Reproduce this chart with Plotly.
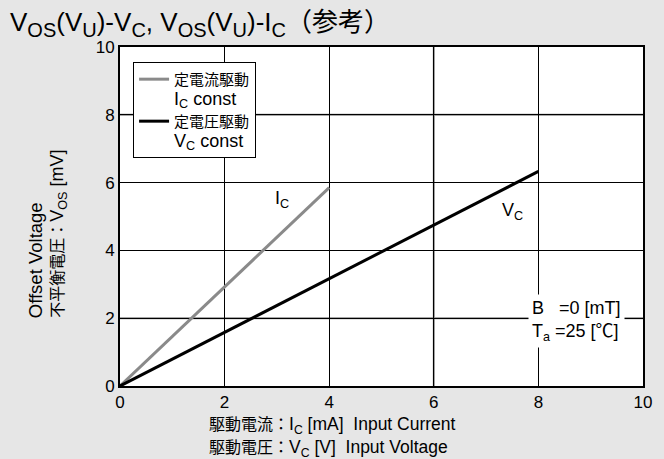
import plotly.graph_objects as go

# Data
ic_x = [0, 4]
ic_y = [0, 5.85]
vc_x = [0, 8]
vc_y = [0, 6.33]

x_ticks = [0, 2, 4, 6, 8, 10]
y_ticks = [0, 2, 4, 6, 8, 10]
gray_grid_x = [6]
gray_grid_y = [2, 8]

FONT = "Liberation Sans, Arial, Noto Sans CJK JP"


def en(t, size):
    return '<span style="font-size:%spx">%s</span>' % (size, t)


SUB = '<sub><span style="font-size:20px">{}</span></sub>'
title_text = ("V" + SUB.format("OS") + "(V" + SUB.format("U") + ")-V" + SUB.format("C") +
              ", V" + SUB.format("OS") + "(V" + SUB.format("U") + ")-I" + SUB.format("C") + "（参考）")

legend_ic = "定電流駆動<br>" + en("I<sub>C</sub> const", 18)
legend_vc = "定電圧駆動<br>" + en("V<sub>C</sub> const", 18)

fig = go.Figure()
fig.add_trace(go.Scatter(x=ic_x, y=ic_y, mode="lines",
                         line=dict(color="#8a8a8a", width=3), name=legend_ic))
fig.add_trace(go.Scatter(x=vc_x, y=vc_y, mode="lines",
                         line=dict(color="#000000", width=3), name=legend_vc))

shapes = []
for gx in gray_grid_x:
    shapes.append(dict(type="line", xref="x", yref="paper", x0=gx, x1=gx, y0=0, y1=1,
                       line=dict(color="#888888", width=2), layer="below"))
for gy in gray_grid_y:
    shapes.append(dict(type="line", xref="paper", yref="y", x0=0, x1=1, y0=gy, y1=gy,
                       line=dict(color="#888888", width=2), layer="below"))

xl = (207 - 120) / 525
annotations = [
    dict(x=3.1, y=5.5, xref="x", yref="y", text="I<sub>C</sub>", showarrow=False,
         font=dict(size=18, color="black")),
    dict(x=7.5, y=5.15, xref="x", yref="y", text="V<sub>C</sub>", showarrow=False,
         font=dict(size=18, color="black")),
    dict(x=8.72, y=1.92, xref="x", yref="y", text="B   =0 [mT]<br>T<sub>a</sub> =25 [℃]",
         showarrow=False, align="left", bgcolor="white", borderpad=3,
         font=dict(size=18, color="black")),
    dict(x=-0.160, y=0.195, xref="paper", yref="paper", xanchor="center", yanchor="bottom",
         text=en("Offset Voltage", 18.5), textangle=-90, showarrow=False,
         font=dict(size=16, color="black")),
    dict(x=-0.117, y=0.195, xref="paper", yref="paper", xanchor="center", yanchor="bottom",
         text="不平衡電圧：" + en("V<sub>OS</sub> [mV]", 18), textangle=-90, showarrow=False,
         font=dict(size=16, color="black")),
    dict(x=xl, y=-0.116, xref="paper", yref="paper", xanchor="left", yanchor="middle",
         text="駆動電流：" + en("I<sub>C</sub> [mA]  Input Current", 17.5),
         showarrow=False, font=dict(size=16, color="black")),
    dict(x=xl, y=-0.183, xref="paper", yref="paper", xanchor="left", yanchor="middle",
         text="駆動電圧：" + en("V<sub>C</sub> [V]  Input Voltage", 17.5),
         showarrow=False, font=dict(size=16, color="black")),
]

fig.update_layout(
    width=664, height=459,
    margin=dict(l=120, r=19, t=47, b=73),
    paper_bgcolor="#e6e6e6", plot_bgcolor="white",
    font=dict(family=FONT, size=16, color="black"),
    title=dict(text=title_text,
               xref="container", yref="container", x=10 / 664, y=1 - 22 / 459,
               xanchor="left", yanchor="middle", font=dict(size=26, color="black")),
    showlegend=True,
    legend=dict(x=0.025, y=0.956, xanchor="left", yanchor="top", bgcolor="white",
                bordercolor="black", borderwidth=1, valign="top",
                font=dict(size=15, color="black"), tracegroupgap=0, itemwidth=30),
    shapes=shapes,
    annotations=annotations,
)
fig.update_xaxes(range=[0, 10], tickvals=x_ticks, ticktext=[str(v) for v in x_ticks],
                 showgrid=True, gridcolor="black", gridwidth=1, zeroline=False,
                 showline=True, linecolor="black", linewidth=2, mirror=True,
                 ticks="", tickfont=dict(size=17))
fig.update_yaxes(range=[0, 10], tickvals=y_ticks, ticktext=[str(v) for v in y_ticks],
                 showgrid=True, gridcolor="black", gridwidth=1, zeroline=False,
                 showline=True, linecolor="black", linewidth=2, mirror=True,
                 ticks="", tickfont=dict(size=17))

fig.write_html("out.html", config={"displayModeBar": False},
               post_script="document.body.style.margin='0';document.body.style.overflow='hidden';")
